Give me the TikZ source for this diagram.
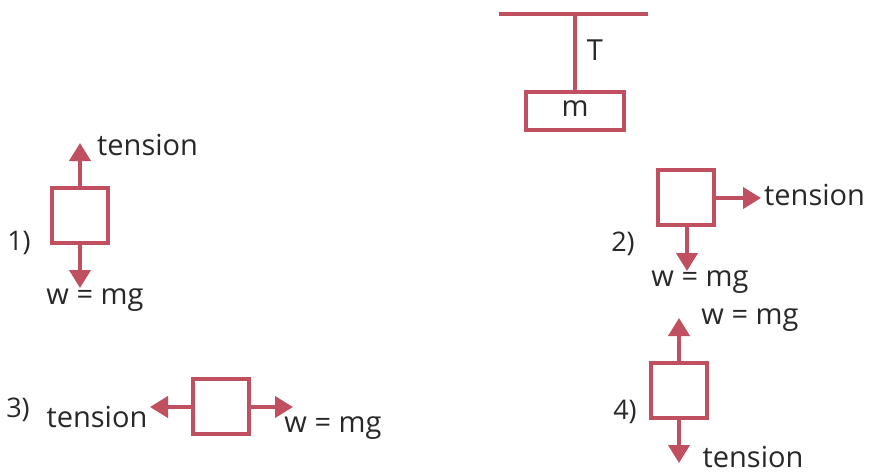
\documentclass[tikz,border=0pt]{standalone}
\usepackage{fontspec}
\setmainfont{Open Sans}
\usetikzlibrary{arrows.meta}
\definecolor{rose}{RGB}{192,80,96}
\definecolor{ink}{RGB}{40,40,40}
\begin{document}
\begin{tikzpicture}[x=1pt,y=-1pt,
  box/.style={draw=rose,line width=4pt,minimum width=56pt,minimum height=55pt,inner sep=0pt},
  force/.style={draw=rose,line width=4pt,-{Triangle[length=18pt,width=21pt]}},
  lbl/.style={text=ink,font=\fontsize{29}{32}\selectfont,inner sep=0pt},
  num/.style={text=ink,font=\fontsize{27}{30}\selectfont,inner sep=0pt}]
\useasboundingbox (0,0) rectangle (872,474);
% top hanging mass
\coordinate (cl) at (499,14);
\coordinate (cr) at (648,14);
\coordinate (ct) at (575,14);
\draw[rose,line width=4pt] (cl) -- (cr);
\node[draw=rose,line width=4pt,minimum width=98pt,minimum height=38pt,inner sep=0pt] (m) at (575,111) {};
\node[lbl] at (575,109) {m};
\draw[rose,line width=4pt] (ct) -- (m.north);
\node[lbl] (T) at (595,50) {T};
% 1)
\node[box] (b1) at (80,215) {};
\coordinate (t1) at (80,143);
\coordinate (w1) at (80,288);
\draw[force] (b1.north) -- (t1);
\draw[force] (b1.south) -- (w1);
\node[lbl,anchor=west] (l1t) at (97,145) {tension};
\node[lbl] (l1w) at (95,300) {w = mg};
\node[num] (n1) at (19,243) {1)};
% 2)
\node[box] (b2) at (686,197) {};
\coordinate (t2) at (761,198);
\coordinate (w2) at (687,271);
\draw[force] (b2.east |- t2) -- (t2);
\draw[force] (b2.south -| w2) -- (w2);
\node[lbl,anchor=west] (l2t) at (764,195) {tension};
\node[lbl] (l2w) at (700,282) {w = mg};
\node[num] (n2) at (623,244) {2)};
% 3)
\node[box] (b3) at (221,406) {};
\coordinate (t3) at (150,407);
\coordinate (w3) at (293,407);
\draw[force] (b3.west |- t3) -- (t3);
\draw[force] (b3.east |- w3) -- (w3);
\node[lbl] (l3t) at (97,417) {tension};
\node[lbl] (l3w) at (333,428) {w = mg};
\node[num] (n3) at (18,410) {3)};
% 4)
\node[box] (b4) at (679,390) {};
\coordinate (t4) at (679,318);
\coordinate (w4) at (679,463);
\draw[force] (b4.north) -- (t4);
\draw[force] (b4.south) -- (w4);
\node[lbl] (l4w) at (750,320) {w = mg};
\node[lbl] (l4t) at (753,457) {tension};
\node[num] (n4) at (625,412) {4)};
\end{tikzpicture}
\end{document}
